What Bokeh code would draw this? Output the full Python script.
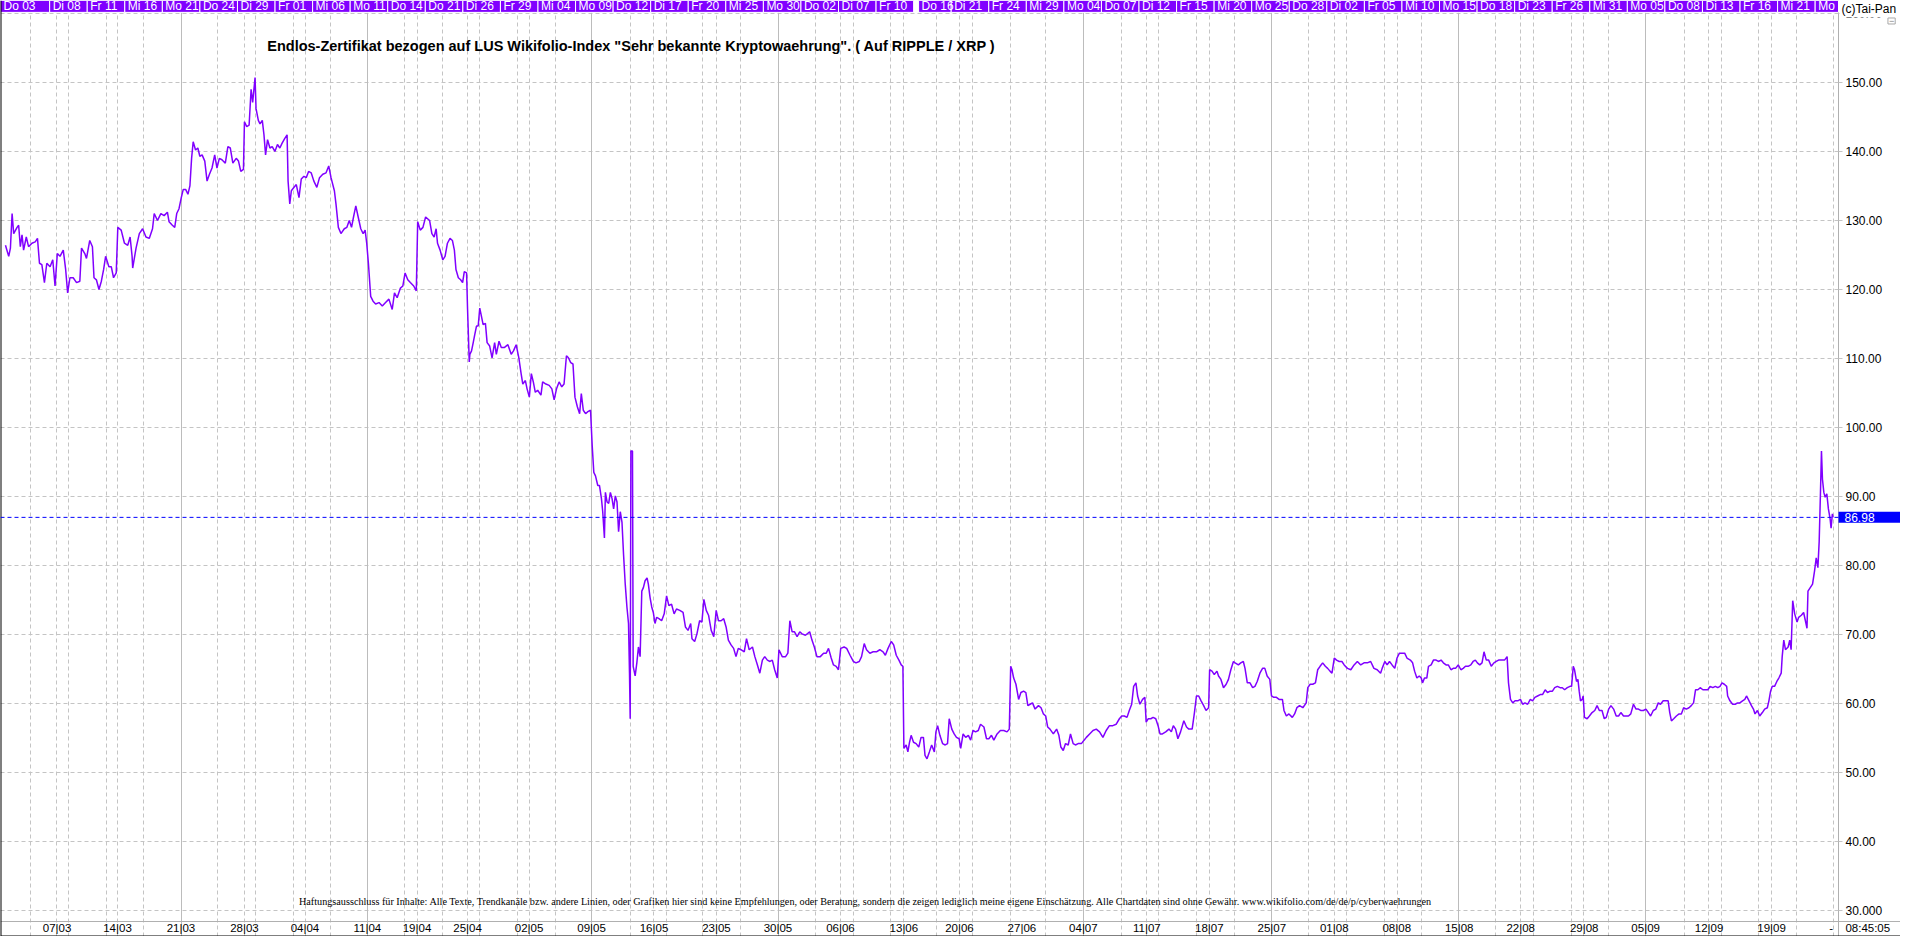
from bokeh.plotting import figure
from bokeh.models import (Range1d, FixedTicker, Grid, Span, Label, NumeralTickFormatter,
                          BoxAnnotation)
from bokeh.embed import file_html
from bokeh.resources import INLINE
from bokeh.core.properties import value

# ---------------- data (x = chart time index, y = price) ----------------
points = [
(5.0,126.4),(8.3,124.8),(10.0,126.0),(11.7,131.0),(13.3,128.1),(16.7,129.0),(18.3,129.3),(20.0,126.2),(21.7,127.9),(23.3,125.7),
(26.0,127.6),(28.3,126.2),(31.7,126.7),(35.0,126.9),(37.3,127.4),(39.3,123.8),(41.7,123.6),(44.3,121.0),(46.7,123.8),(50.0,123.3),
(52.7,124.3),(55.0,120.5),(57.3,125.2),(60.0,124.8),(63.3,125.7),(65.7,122.9),(67.7,119.5),(70.0,121.7),(73.3,121.7),(76.7,121.0),
(80.0,121.2),(81.7,126.0),(85.0,125.2),(86.7,124.5),(90.0,127.1),(92.7,126.2),(94.3,121.7),(96.7,121.4),(99.3,120.0),(101.7,121.2),
(104.0,122.9),(106.0,124.8),(109.3,123.3),(111.7,123.3),(114.0,121.7),(116.7,122.4),(118.3,129.0),(121.7,128.6),(125.0,126.7),(128.3,126.4),
(130.7,127.6),(132.7,124.8),(133.3,123.1),(136.7,126.0),(140.0,128.1),(143.3,128.8),(146.7,127.6),(150.0,127.4),(153.3,128.8),(155.0,131.0),
(158.3,130.0),(161.7,131.0),(165.0,130.7),(168.3,131.2),(170.0,129.8),(173.3,129.3),(175.7,129.0),(177.7,131.0),(180.0,131.7),(182.3,133.3),
(184.3,134.5),(186.7,134.5),(189.0,133.8),(191.0,135.0),(192.7,139.0),(194.3,141.4),(196.7,140.2),(199.0,140.5),(201.0,139.3),(203.3,139.5),
(206.0,138.6),(208.3,135.7),(210.7,136.7),(213.3,137.6),(216.0,139.5),(218.3,137.6),(220.7,139.0),(223.3,138.8),(226.7,138.3),(229.3,140.7),
(231.7,140.5),(234.3,138.3),(237.7,139.0),(240.0,138.6),(242.3,137.1),(245.0,137.4),(246.0,144.3),(248.3,143.6),(250.7,143.8),(252.7,149.0),
(254.3,147.1),(256.7,150.7),(257.7,146.2),(260.0,144.5),(261.7,144.0),(264.0,144.5),(265.7,142.4),(267.3,139.5),(269.3,141.7),(271.7,140.5),
(274.0,140.7),(276.7,140.0),(279.3,141.0),(281.7,140.5),(284.0,141.2),(286.7,141.9),(289.0,142.4),(290.0,135.7),(291.7,132.4),(293.3,134.3),
(296.0,134.8),(298.3,135.2),(301.0,133.3),(303.3,136.0),(306.0,136.4),(308.3,136.2),(310.7,137.1),(313.3,136.9),(316.0,135.7),(319.0,134.8),
(321.7,136.2),(325.0,136.7),(328.3,136.9),(331.0,137.9),(333.3,136.2),(336.7,134.3),(338.3,132.4),(340.7,129.0),(343.3,128.1),(346.7,128.8),
(349.3,129.0),(351.7,130.0),(354.0,129.0),(356.0,130.5),(358.3,132.1),(360.7,130.5),(363.3,128.8),(365.7,128.1),(367.7,128.6),(369.3,126.7),
(371.0,123.8),(373.3,119.0),(375.7,118.3),(378.3,117.9),(381.7,118.1),(385.0,117.6),(388.3,118.1),(391.7,118.6),(395.0,117.1),(397.3,119.5),
(400.0,118.8),(403.3,120.2),(405.7,120.5),(408.0,122.4),(410.7,121.4),(413.3,121.0),(416.7,120.5),(419.3,119.8),(420.7,129.8),(423.3,128.6),
(426.0,129.0),(428.7,130.5),(432.7,130.0),(435.0,128.1),(437.3,127.6),(439.3,128.8),(440.7,126.7),(443.3,125.7),(446.0,124.3),(448.3,124.8),
(450.7,126.7),(453.3,127.4),(455.7,127.1),(457.7,125.7),(459.3,122.9),(461.7,121.7),(464.0,121.4),(466.0,121.0),(467.7,122.6),(470.0,122.4),
(471.0,117.1),(472.7,109.5),(473.3,110.6),(475.0,111.1),(476.7,112.3),(478.3,113.5),(480.0,114.7),(481.7,114.7),(483.3,117.3),(485.0,116.1),
(486.7,114.9),(489.0,115.1),(490.7,112.3),(493.3,111.8),(495.7,110.1),(498.3,112.3),(500.0,110.6),(502.7,112.5),(505.0,111.6),(508.3,111.6),
(511.7,112.0),(515.0,110.6),(517.3,111.1),(520.0,112.0),(522.7,110.1),(525.0,107.8),(526.7,106.3),(529.3,106.8),(531.0,105.6),(533.3,104.4),
(535.3,107.8),(537.3,106.6),(539.3,105.1),(541.7,105.4),(545.0,104.7),(546.7,106.6),(550.0,106.3),(553.3,106.1),(556.0,105.6),(558.3,104.0),
(560.7,105.6),(563.3,106.6),(566.0,105.9),(568.3,106.3),(570.7,110.4),(572.7,110.1),(575.0,109.4),(577.3,109.2),(579.3,104.4),(581.7,103.0),
(584.0,102.0),(585.7,104.9),(587.7,102.5),(590.0,102.0),(592.3,102.3),(595.0,102.5),(596.7,97.3),(598.3,93.5),(600.0,93.0),(602.3,91.6),
(604.0,91.6),(606.0,89.7),(607.3,87.8),(609.0,84.0),(610.0,90.6),(611.7,89.2),(613.3,89.0),(615.0,90.6),(616.7,89.7),(618.3,88.2),
(620.0,90.1),(621.7,89.2),(623.3,84.9),(625.0,87.8),(626.7,86.3),(628.3,81.6),(630.0,77.3),(631.7,74.0),(633.3,71.6),(634.3,64.4),
(635.0,57.8),(635.7,96.6),(637.3,96.6),(638.0,65.4),(640.0,64.0),(641.7,65.9),(643.3,68.2),(645.0,66.8),(646.7,76.3),(648.3,76.8),
(650.0,77.8),(652.0,78.2),(653.3,77.3),(655.0,75.4),(656.7,74.0),(658.3,73.2),(660.0,71.6),(661.7,72.5),(664.0,72.3),(666.7,72.0),
(669.3,73.0),(671.7,75.6),(674.0,74.2),(676.7,74.4),(679.3,73.0),(681.7,73.7),(685.0,73.5),(688.3,73.2),(690.7,71.1),(693.3,70.6),
(696.0,71.6),(697.3,69.4),(700.0,69.0),(702.3,70.1),(705.0,72.0),(707.3,71.8),(709.3,75.1),(711.7,73.5),(714.0,72.8),(716.7,70.6),
(719.3,69.7),(721.7,73.5),(724.0,72.0),(726.7,72.0),(729.3,72.3),(731.7,71.1),(734.0,69.2),(736.7,68.5),(739.3,68.0),(741.7,66.8),
(744.0,68.0),(746.7,67.8),(750.0,67.5),(752.3,69.4),(755.0,67.8),(758.3,68.2),(760.7,66.8),(763.3,65.6),(765.7,64.4),(768.3,66.3),
(770.7,66.8),(773.3,66.3),(776.0,66.1),(778.3,66.3),(780.7,64.9),(783.3,63.7),(785.0,67.8),(788.3,66.8),(791.7,66.8),(794.0,67.3),
(796.0,72.0),(798.3,70.4),(800.7,70.4),(803.3,69.7),(806.0,70.4),(808.3,70.1),(811.7,69.9),(816.0,70.4),(818.3,69.2),(820.7,68.2),
(823.3,66.8),(826.7,66.8),(830.0,67.3),(832.7,67.3),(835.0,68.0),(837.7,66.6),(840.0,65.6),(842.7,65.4),(845.0,64.9),(847.3,68.0),
(850.7,68.2),(853.3,68.0),(856.7,67.0),(860.0,66.1),(862.7,65.9),(866.0,66.1),(868.3,66.8),(871.0,68.7),(873.3,67.8),(876.7,67.3),
(880.0,67.5),(883.3,67.5),(886.7,67.8),(890.0,67.5),(892.3,67.0),(895.0,68.0),(898.3,69.0),(900.7,68.5),(903.3,67.0),(906.0,66.3),
(908.3,65.6),(910.0,65.4),(911.0,53.5),(913.3,54.0),(915.0,53.0),(916.7,54.4),(918.3,55.4),(920.7,54.4),(923.3,54.2),(926.0,53.7),
(928.3,55.1),(930.7,55.1),(932.3,52.5),(934.3,52.0),(936.7,53.0),(939.0,54.0),(941.7,53.0),(943.3,55.9),(945.0,56.8),(947.3,55.4),
(950.0,54.2),(952.7,54.0),(955.0,54.2),(956.7,57.8),(959.3,56.3),(961.7,55.6),(964.0,55.1),(966.7,54.9),(968.3,53.5),(970.7,55.6),
(973.3,55.1),(976.0,55.4),(978.3,54.7),(980.7,56.1),(983.3,55.9),(986.0,56.1),(988.3,57.0),(991.7,56.6),(994.3,54.9),(996.7,54.9),
(999.3,55.4),(1001.7,54.7),(1005.0,55.6),(1008.3,56.1),(1011.7,56.1),(1015.0,55.9),(1017.3,56.3),(1018.7,65.4),(1020.0,64.9),(1021.7,63.7),
(1024.0,62.8),(1026.7,60.6),(1029.0,61.6),(1031.7,61.8),(1034.0,61.6),(1036.0,59.7),(1038.3,59.9),(1040.7,60.1),(1043.3,59.2),(1046.7,59.7),
(1049.3,59.4),(1051.7,58.5),(1054.0,58.2),(1056.0,56.6),(1058.3,56.3),(1061.7,55.6),(1065.0,56.3),(1067.3,55.4),(1069.3,53.7),(1071.7,53.2),
(1074.0,54.2),(1076.7,54.0),(1079.0,55.6),(1081.7,54.2),(1084.0,54.0),(1086.7,54.2),(1090.0,54.2),(1092.7,54.7),(1095.0,55.1),(1098.3,55.6),
(1101.7,56.1),(1105.0,56.3),(1108.3,55.9),(1111.7,55.1),(1115.0,56.1),(1118.3,56.8),(1121.7,56.8),(1125.0,57.0),(1128.3,57.8),(1130.7,58.2),
(1133.3,58.2),(1136.0,58.0),(1138.3,59.0),(1140.7,59.9),(1142.7,62.5),(1145.0,63.0),(1146.7,61.1),(1149.0,59.9),(1151.7,60.6),(1154.0,60.9),
(1155.3,57.3),(1157.3,57.8),(1160.0,57.8),(1162.3,58.0),(1165.0,57.8),(1167.3,56.8),(1169.3,55.6),(1171.7,55.6),(1175.0,55.9),(1178.3,56.3),
(1180.7,55.9),(1182.7,56.8),(1185.0,56.3),(1187.3,54.9),(1190.0,55.9),(1193.3,57.5),(1196.0,56.6),(1198.3,56.3),(1201.7,56.3),(1204.0,58.7),
(1206.0,61.1),(1208.3,61.1),(1210.7,60.4),(1213.3,59.7),(1215.7,59.0),(1218.3,59.4),(1219.3,64.9),(1221.7,64.7),(1224.0,64.2),(1226.7,64.7),
(1228.3,64.0),(1230.7,63.5),(1233.3,62.3),(1236.0,62.8),(1238.3,63.5),(1240.7,64.9),(1243.3,66.1),(1245.0,65.9),(1248.3,65.6),(1250.7,65.9),
(1253.3,66.1),(1255.0,65.1),(1257.3,63.0),(1260.0,63.0),(1262.7,62.3),(1265.0,62.5),(1267.3,63.2),(1270.0,64.4),(1272.7,65.1),(1275.0,65.1),
(1277.3,64.0),(1280.0,63.5),(1281.7,61.1),(1284.0,60.9),(1286.7,60.9),(1289.3,60.6),(1292.7,60.6),(1294.3,59.0),(1296.7,58.2),(1299.3,58.5),
(1302.7,58.0),(1305.0,58.5),(1307.3,59.4),(1310.0,59.7),(1313.3,59.4),(1316.7,60.1),(1318.3,62.3),(1320.7,62.8),(1323.3,62.8),(1326.0,63.0),
(1328.3,64.9),(1330.7,65.4),(1333.3,65.9),(1336.0,65.4),(1338.3,65.1),(1340.7,64.7),(1342.7,64.4),(1345.0,66.6),(1347.3,66.3),(1350.0,66.1),
(1352.7,66.1),(1355.0,65.6),(1358.3,65.1),(1361.7,64.9),(1365.0,65.6),(1368.3,66.1),(1371.7,65.6),(1375.0,65.9),(1378.3,65.9),(1381.7,66.1),
(1385.0,65.1),(1388.3,64.9),(1391.7,64.4),(1393.3,65.1),(1396.0,66.1),(1398.3,65.6),(1400.7,66.1),(1403.3,65.6),(1406.0,65.1),(1408.3,66.6),
(1410.7,67.3),(1413.3,67.3),(1416.0,67.3),(1418.3,66.6),(1421.7,66.3),(1424.0,65.9),(1426.0,64.7),(1428.3,63.7),(1430.7,64.0),(1432.7,63.7),
(1434.0,63.0),(1436.0,63.7),(1438.3,63.7),(1440.0,65.4),(1442.7,65.6),(1445.0,66.3),(1447.7,66.3),(1450.0,66.1),(1452.7,66.3),(1455.0,65.9),
(1457.7,65.6),(1460.0,65.6),(1462.7,64.9),(1465.0,65.1),(1467.3,65.1),(1470.0,65.6),(1472.7,64.9),(1475.0,65.1),(1477.3,65.4),(1480.0,65.4),
(1482.7,65.6),(1485.0,66.1),(1487.3,66.3),(1489.3,65.9),(1491.7,65.6),(1494.0,65.9),(1496.0,67.5),(1498.3,66.3),(1500.7,66.3),(1503.3,65.4),
(1506.0,65.9),(1508.3,66.1),(1510.7,66.3),(1513.3,66.3),(1516.7,66.3),(1519.3,66.8),(1520.7,63.0),(1522.7,60.6),(1525.0,60.1),(1527.3,60.4),
(1530.0,60.4),(1532.7,60.6),(1535.0,59.9),(1537.3,60.1),(1540.0,59.9),(1542.7,60.6),(1545.0,60.4),(1547.3,60.9),(1550.0,61.1),(1552.7,61.3),
(1555.0,61.3),(1557.7,62.0),(1560.0,61.6),(1562.7,61.8),(1565.0,61.8),(1567.3,62.3),(1570.0,62.5),(1572.7,62.3),(1575.0,62.3),(1577.3,62.0),
(1580.0,62.3),(1582.7,62.5),(1584.3,62.5),(1586.0,65.4),(1587.3,64.9),(1589.3,63.2),(1590.7,63.5),(1592.0,61.8),(1593.3,60.4),(1595.0,60.6),
(1596.0,61.1),(1597.3,58.0),(1600.0,57.8),(1602.3,58.2),(1605.0,58.7),(1607.7,59.0),(1610.0,59.7),(1612.3,59.0),(1615.0,59.0),(1617.3,57.8),
(1619.3,58.0),(1621.7,59.2),(1624.0,59.7),(1626.7,59.2),(1629.3,58.2),(1631.7,58.2),(1634.0,58.7),(1636.7,58.2),(1639.3,58.2),(1641.7,58.2),
(1644.0,58.5),(1646.7,59.9),(1649.3,59.2),(1651.7,59.2),(1654.0,59.0),(1656.7,59.0),(1659.3,59.2),(1661.7,58.7),(1664.0,58.2),(1666.7,59.0),
(1669.3,59.2),(1671.7,60.1),(1674.0,59.9),(1676.7,60.4),(1679.3,60.4),(1681.7,60.4),(1683.3,58.7),(1685.0,57.5),(1687.3,57.8),(1690.0,58.2),
(1692.7,58.5),(1695.0,58.5),(1697.3,59.4),(1700.0,59.2),(1702.7,59.4),(1705.0,59.7),(1707.3,60.1),(1709.3,62.0),(1711.7,62.0),(1714.0,62.3),
(1716.7,62.0),(1719.3,62.0),(1721.7,62.0),(1724.0,62.5),(1726.7,62.3),(1729.3,62.5),(1731.7,62.3),(1734.0,62.5),(1736.0,63.0),(1738.3,62.8),
(1740.7,62.5),(1741.7,61.1),(1744.0,60.4),(1746.7,59.9),(1749.3,59.9),(1751.7,60.1),(1754.0,60.1),(1756.7,60.4),(1759.0,60.6),(1760.7,61.1),
(1763.3,60.4),(1765.7,59.7),(1767.7,59.2),(1769.3,58.5),(1771.7,59.0),(1774.0,58.2),(1776.7,58.7),(1779.0,59.2),(1781.7,59.4),(1783.3,60.4),
(1785.0,61.8),(1786.7,62.5),(1789.0,62.5),(1791.3,63.2),(1793.3,63.7),(1795.7,64.4),(1796.7,66.8),(1798.3,69.2),(1800.0,67.8),(1802.7,68.2),
(1804.3,69.2),(1805.7,67.8),(1807.3,74.9),(1809.3,73.0),(1811.7,71.8),(1813.3,72.5),(1816.0,72.8),(1818.3,73.2),(1820.7,71.6),(1821.7,70.9),
(1822.7,76.3),(1825.0,76.8),(1827.3,77.3),(1829.3,79.2),(1831.0,81.1),(1832.7,79.7),(1834.0,83.5),(1835.3,90.6),(1836.3,96.6),(1837.3,92.5),
(1838.7,90.6),(1840.0,89.9),(1841.7,90.4),(1843.3,88.2),(1845.0,86.8),(1846.0,85.4),(1847.3,87.5),(1848.0,86.98),
]
t = [p_[0] for p_ in points]
price = [p_[1] for p_ in points]
last_price = 86.98

price_ticks = [30, 40, 50, 60, 70, 80, 90, 100, 110, 120, 130, 140, 150, 160]

date_ticks = [57, 118, 182, 246, 307, 370, 420, 471, 533, 596, 659, 722, 784, 847, 911,
              967, 1030, 1092, 1156, 1219, 1282, 1345, 1408, 1471, 1533, 1597, 1659, 1723, 1786, 1846]
date_labels = ["07|03", "14|03", "21|03", "28|03", "04|04", "11|04", "19|04", "25|04", "02|05", "09|05",
               "16|05", "23|05", "30|05", "06|06", "13|06", "20|06", "27|06", "04|07", "11|07", "18|07",
               "25|07", "01|08", "08|08", "15|08", "22|08", "29|08", "05|09", "12|09", "19|09", "-"]

grid_days = [30.7, 56.7, 68.7, 106.7, 118.3, 144.3, 219.3, 245.7, 257.3, 295.3, 307.3, 332.7, 407.3, 420.3,
             445.7, 471.3, 483.3, 521, 533.3, 559.3, 635, 658.7, 671.7, 708.3, 721.7, 746.7, 821.7, 847.3, 860,
             897.7, 910.5, 944.3, 967.3, 980, 1018.3, 1054.3, 1130, 1155.7, 1167.7, 1206, 1219, 1244, 1319.3,
             1345, 1357.3, 1395.7, 1408.3, 1433.3, 1507.7, 1532.7, 1545.7, 1584, 1596.7, 1621.7, 1697.7, 1722.7,
             1735.7, 1773.3, 1786, 1811, 1848.3]
grid_months = [182.3, 370.3, 596.3, 784.3, 1092.3, 1281.7, 1470.7, 1659.3]

band_labels = ["Do 03", "Di 08", "Fr 11", "Mi 16", "Mo 21", "Do 24", "Di 29", "Fr 01", "Mi 06", "Mo 11",
               "Do 14", "Do 21", "Di 26", "Fr 29", "Mi 04", "Mo 09", "Do 12", "Di 17", "Fr 20", "Mi 25",
               "Mo 30", "Do 02", "Di 07", "Fr 10", "Do 16", "Di 21", "Fr 24", "Mi 29", "Mo 04", "Do 07",
               "Di 12", "Fr 15", "Mi 20", "Mo 25", "Do 28", "Di 02", "Fr 05", "Mi 10", "Mo 15", "Do 18",
               "Di 23", "Fr 26", "Mi 31", "Mo 05", "Do 08", "Di 13", "Fr 16", "Mi 21", "Mo 1"]

title_text = 'Endlos-Zertifikat bezogen auf LUS Wikifolio-Index "Sehr bekannte Kryptowaehrung". ( Auf RIPPLE / XRP )'
disclaimer = ("Haftungsausschluss für Inhalte: Alle Texte, Trendkanäle bzw. andere Linien, oder Grafiken hier sind "
              "keine Empfehlungen, oder Beratung, sondern die zeigen lediglich meine eigene Einschätzung. "
              "Alle Chartdaten sind ohne Gewähr.  www.wikifolio.com/de/de/p/cyberwaehrungen")

# ---------------- layout / styling ----------------
PURPLE = "#8000ff"
GRID = "#c4c4c4"
SANS = "Liberation Sans"

X_END = 1916          # full width in time-index units
AXIS_X = 1853.5       # where the price scale sits
Y_TOP = 161.87
Y_BOT = 26.25
X_AXIS_Y = 28.43      # where the date scale sits
BAND_BOTTOM = 160.15
CELL = 37.88
CELL_START = 11.7
GAP_CELL = 24
GAP = 5

p = figure(width=1900, height=936, x_range=Range1d(0, X_END), y_range=Range1d(Y_BOT, Y_TOP),
           y_axis_location="right", toolbar_location=None, output_backend="svg", title=None,
           min_border=0, min_border_left=0, min_border_right=0, min_border_top=0, min_border_bottom=0,
           background_fill_color="white", border_fill_color="white", outline_line_color=None)

# price scale (right), fixed inside the frame
p.yaxis.fixed_location = AXIS_X
p.yaxis.bounds = (Y_BOT, BAND_BOTTOM)
p.yaxis.ticker = FixedTicker(ticks=price_ticks)
p.yaxis.formatter = NumeralTickFormatter(format="0.00")
p.yaxis.major_label_overrides = {30: "30.000"}
p.yaxis.major_label_text_font = SANS
p.yaxis.major_label_text_font_size = "12px"
p.yaxis.major_label_text_color = "black"
p.yaxis.axis_line_color = "#b0b0b0"
p.yaxis.major_tick_line_color = GRID
p.yaxis.major_tick_out = 4
p.yaxis.major_tick_in = 0
p.yaxis.minor_tick_line_color = None
p.yaxis.major_label_standoff = 3
p.ygrid.grid_line_color = GRID
p.ygrid.grid_line_dash = "4 3"

# date scale (bottom), fixed inside the frame
p.xaxis.fixed_location = X_AXIS_Y
p.xaxis.ticker = FixedTicker(ticks=date_ticks)
p.xaxis.major_label_overrides = {k: v for k, v in zip(date_ticks, date_labels)}
p.xaxis.major_label_text_font = SANS
p.xaxis.major_label_text_font_size = "11.5px"
p.xaxis.major_label_text_color = "black"
p.xaxis.axis_line_color = "#b0b0b0"
p.xaxis.major_tick_line_color = None
p.xaxis.minor_tick_line_color = None
p.xaxis.major_tick_out = 0
p.xaxis.major_tick_in = 0
p.xaxis.major_label_standoff = 1
p.xgrid.visible = False

# vertical grids
p.add_layout(Grid(dimension=0, ticker=FixedTicker(ticks=grid_days),
                  grid_line_color=GRID, grid_line_dash="4 3"))
p.add_layout(Grid(dimension=0, ticker=FixedTicker(ticks=grid_months),
                  grid_line_color="#bcbcbc"))
# keep horizontal grid lines from running into the scale area
p.add_layout(BoxAnnotation(left=AXIS_X + 0.6, right=X_END, bottom=Y_BOT, top=Y_TOP,
                           fill_color="white", fill_alpha=1.0, line_color=None, level="underlay"))

# outer border lines (left and bottom)
p.add_layout(Span(location=0, dimension="height", line_color="black", line_width=2))
p.add_layout(Span(location=Y_BOT, dimension="width", line_color="black", line_width=2))

# header band of date cells
n = len(band_labels)
lefts = [0.0] + [CELL_START + i * CELL + (GAP if i == GAP_CELL else 0) for i in range(1, n)]
rights = [min(CELL_START + (i + 1) * CELL, AXIS_X) for i in range(n)]
p.quad(left=lefts, right=rights, top=Y_TOP, bottom=BAND_BOTTOM,
       fill_color=PURPLE, line_color="white", line_width=1)
p.text(x=lefts, y=[(Y_TOP + BAND_BOTTOM) / 2] * n, text=band_labels,
       text_color="white", text_font=value(SANS), text_font_size="12px",
       text_baseline="middle", text_align="left", x_offset=3)

# price line
p.line(t, price, line_color=PURPLE, line_width=1.5)

# last price marker
p.add_layout(Span(location=last_price, dimension="width", line_color="#0000ff",
                  line_dash="4 3", line_width=1))
p.add_layout(Label(x=AXIS_X, y=last_price, text=f"{last_price:.2f}", text_font=SANS,
                   text_font_size="12px", text_color="white", text_baseline="middle",
                   text_align="left", background_fill_color="#0000ff",
                   padding=dict(left=6, right=28, top=1, bottom=1)))

# texts
p.add_layout(Label(x=269, y=155.26, text=title_text, text_font=SANS, text_font_size="14.5px",
                   text_font_style="bold", text_color="black", text_baseline="middle", text_align="left"))
p.add_layout(Label(x=301, y=31.31, text=disclaimer, text_font="Liberation Serif", text_font_size="10.2px",
                   text_color="black", text_baseline="middle", text_align="left"))
p.add_layout(Label(x=AXIS_X + 1, y=Y_TOP, text="(c)Tai-Pan", text_font=SANS, text_font_size="12px",
                   text_color="black", text_baseline="top", text_align="left",
                   background_fill_color="white", padding=dict(left=2, right=8, top=1, bottom=2)))
p.add_layout(Label(x=1907, y=158.9, text="−", text_font=SANS, text_font_size="9px",
                   text_color="#808080", text_baseline="middle", text_align="center",
                   border_line_color="#a8a8a8", background_fill_color="white",
                   padding=dict(left=1, right=1, top=0, bottom=0)))
p.add_layout(Label(x=1883, y=27.45, text="08:45:05", text_font=SANS, text_font_size="11.5px",
                   text_color="black", text_baseline="middle", text_align="center"))

open("out.html", "w", encoding="utf-8").write(file_html(p, INLINE))
